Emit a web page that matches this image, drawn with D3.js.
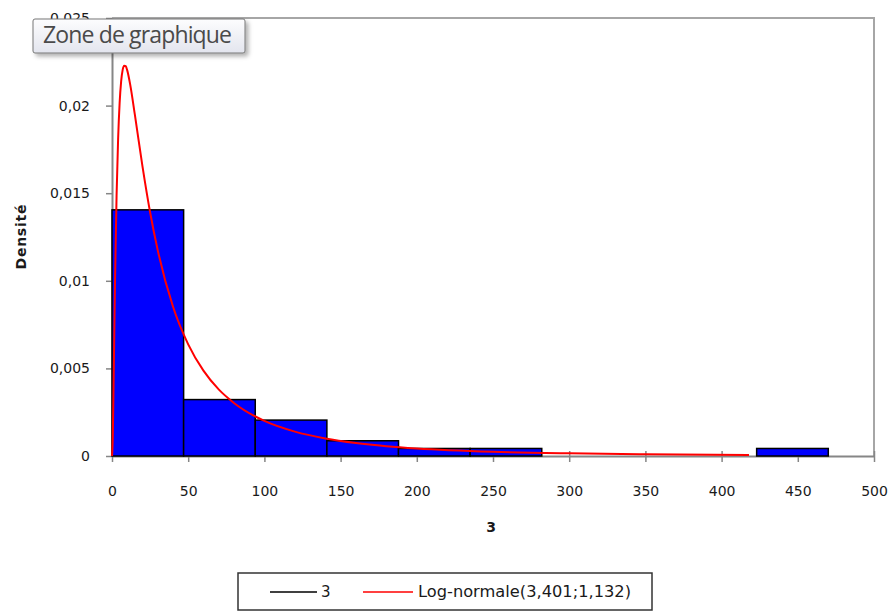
<!DOCTYPE html>
<html>
<head>
<meta charset="utf-8">
<script src="https://cdn.jsdelivr.net/npm/d3@7"></script>
<style>
  body { margin: 0; background: #fff; }
  svg text { font-family: "DejaVu Sans", sans-serif; }
</style>
</head>
<body>
<svg id="chart" width="888" height="611"></svg>
<script>
// histogram bins (edges) and densities
var binEdges = [0, 47, 94, 141, 188, 235, 282, 329, 376, 423, 470];
var densities = [0.01405, 0.00322, 0.00205, 0.00087, 0.00043, 0.00043, 0, 0, 0, 0.00043];

// Log-normale(3,401;1,132) curve, points
var curveX = [0, 0.5, 1, 2, 3, 4, 5, 6, 7, 8, 9, 10, 12, 15, 20, 25, 30, 40, 50, 60, 70, 80, 100, 120, 140, 160, 180, 200, 250, 300, 350, 418];
var curveY = [0, 0.00102, 0.00387, 0.01008, 0.01485, 0.01807, 0.02014, 0.02138, 0.02204, 0.02228, 0.02225, 0.02201, 0.02117, 0.01948, 0.01653, 0.01391, 0.01175, 0.00853, 0.00637, 0.00487, 0.0038, 0.00303, 0.002, 0.00139, 0.001, 0.00074, 0.00056, 0.00043, 0.00024, 0.00015, 0.0001, 0.00006];

var xTicks = [0, 50, 100, 150, 200, 250, 300, 350, 400, 450, 500];
var yTicks = [0, 0.005, 0.01, 0.015, 0.02, 0.025];

var legendLabels = ["3", "Log-normale(3,401;1,132)"];

var svg = d3.select("#chart");
var axisColor = "#868686";

var x = d3.scaleLinear().domain([0, 500]).range([112, 874]);
var y = d3.scaleLinear().domain([0, 0.025]).range([456, 18]);

function frNum(d) { return String(d).replace(".", ","); }

// plot frame (top + right)
svg.append("path")
  .attr("d", "M" + x(0) + "," + y(0.025) + "H" + x(500) + "V" + y(0))
  .attr("fill", "none")
  .attr("stroke", "#a6a6a6")
  .attr("stroke-width", 2);

// axes
var gx = svg.append("g")
  .attr("transform", "translate(0," + y(0) + ")")
  .call(d3.axisBottom(x).tickValues(xTicks).tickSize(6).tickSizeOuter(0).tickPadding(24));
gx.selectAll(".tick line").attr("y1", -5).attr("y2", 6);

var gy = svg.append("g")
  .attr("transform", "translate(" + x(0) + ",0)")
  .call(d3.axisLeft(y).tickValues(yTicks).tickFormat(frNum).tickSize(6).tickSizeOuter(0).tickPadding(16));

[gx, gy].forEach(function(g) {
  g.select(".domain").attr("stroke", axisColor).attr("stroke-width", 2);
  g.selectAll(".tick line").attr("stroke", axisColor).attr("stroke-width", 1.5);
  g.selectAll(".tick text")
    .attr("fill", "#1a1a1a")
    .style("font-size", "14px")
    .style("font-family", "DejaVu Sans, sans-serif");
});

// histogram bars
var bins = densities.map(function(d, i) { return {x0: binEdges[i], x1: binEdges[i + 1], v: d}; })
  .filter(function(b) { return b.v > 0; });

svg.selectAll(".bar")
  .data(bins)
  .enter().append("rect")
  .attr("class", "bar")
  .attr("x", function(d) { return x(d.x0); })
  .attr("y", function(d) { return y(d.v); })
  .attr("width", function(d) { return x(d.x1) - x(d.x0); })
  .attr("height", function(d) { return y(0) - y(d.v); })
  .attr("fill", "#0000ff")
  .attr("stroke", "#000")
  .attr("stroke-width", 1.5);

// red density line
var pts = curveX.map(function(d, i) { return [d, curveY[i]]; });
svg.append("path")
  .datum(pts)
  .attr("fill", "none")
  .attr("stroke", "#ff0000")
  .attr("stroke-width", 2)
  .attr("d", d3.line()
    .x(function(d) { return x(d[0]); })
    .y(function(d) { return y(d[1]); })
    .curve(d3.curveMonotoneX));

// axis titles
svg.append("text")
  .attr("x", 491).attr("y", 532)
  .attr("text-anchor", "middle")
  .style("font-size", "14px").style("font-weight", "bold")
  .attr("fill", "#1a1a1a")
  .text("3");

svg.append("text")
  .attr("transform", "translate(26,237) rotate(-90)")
  .attr("text-anchor", "middle")
  .attr("textLength", 65)
  .style("font-size", "14px").style("font-weight", "bold")
  .attr("fill", "#1a1a1a")
  .text("Densité");

// legend
var lg = svg.append("g");
lg.append("rect")
  .attr("x", 238).attr("y", 573).attr("width", 414).attr("height", 37)
  .attr("fill", "#fff").attr("stroke", "#333").attr("stroke-width", 1.5);
var legendItems = [
  {label: legendLabels[0], color: "#000", x1: 270, x2: 317, tx: 321, len: null},
  {label: legendLabels[1], color: "#ff0000", x1: 363, x2: 413, tx: 418, len: 213}
];
legendItems.forEach(function(d) {
  lg.append("line")
    .attr("x1", d.x1).attr("x2", d.x2).attr("y1", 592).attr("y2", 592)
    .attr("stroke", d.color).attr("stroke-width", 1.5);
  var t = lg.append("text")
    .attr("x", d.tx).attr("y", 597)
    .style("font-size", "15px")
    .attr("fill", "#1a1a1a")
    .text(d.label);
  if (d.len) t.attr("textLength", d.len).attr("lengthAdjust", "spacingAndGlyphs");
});

// "Zone de graphique" tooltip
var defs = svg.append("defs");
var grad = defs.append("linearGradient").attr("id", "tipGrad").attr("x1", 0).attr("y1", 0).attr("x2", 0).attr("y2", 1);
grad.append("stop").attr("offset", "0%").attr("stop-color", "#fdfdfe");
grad.append("stop").attr("offset", "100%").attr("stop-color", "#e3e5ee");
var filt = defs.append("filter").attr("id", "tipShadow").attr("x", "-10%").attr("y", "-20%").attr("width", "130%").attr("height", "160%");
filt.append("feDropShadow").attr("dx", 3).attr("dy", 3).attr("stdDeviation", 2).attr("flood-color", "#000").attr("flood-opacity", 0.3);

var tip = svg.append("g");
tip.append("rect")
  .attr("x", 33).attr("y", 19).attr("width", 212).attr("height", 34).attr("rx", 2)
  .attr("fill", "url(#tipGrad)").attr("stroke", "#767676").attr("stroke-width", 1)
  .attr("filter", "url(#tipShadow)");
tip.append("text")
  .attr("x", 43).attr("y", 43)
  .attr("textLength", 189)
  .style("font-family", "Open Sans, sans-serif")
  .style("font-size", "23px")
  .attr("fill", "#4a4a4a")
  .text("Zone de graphique");
</script>
</body>
</html>
